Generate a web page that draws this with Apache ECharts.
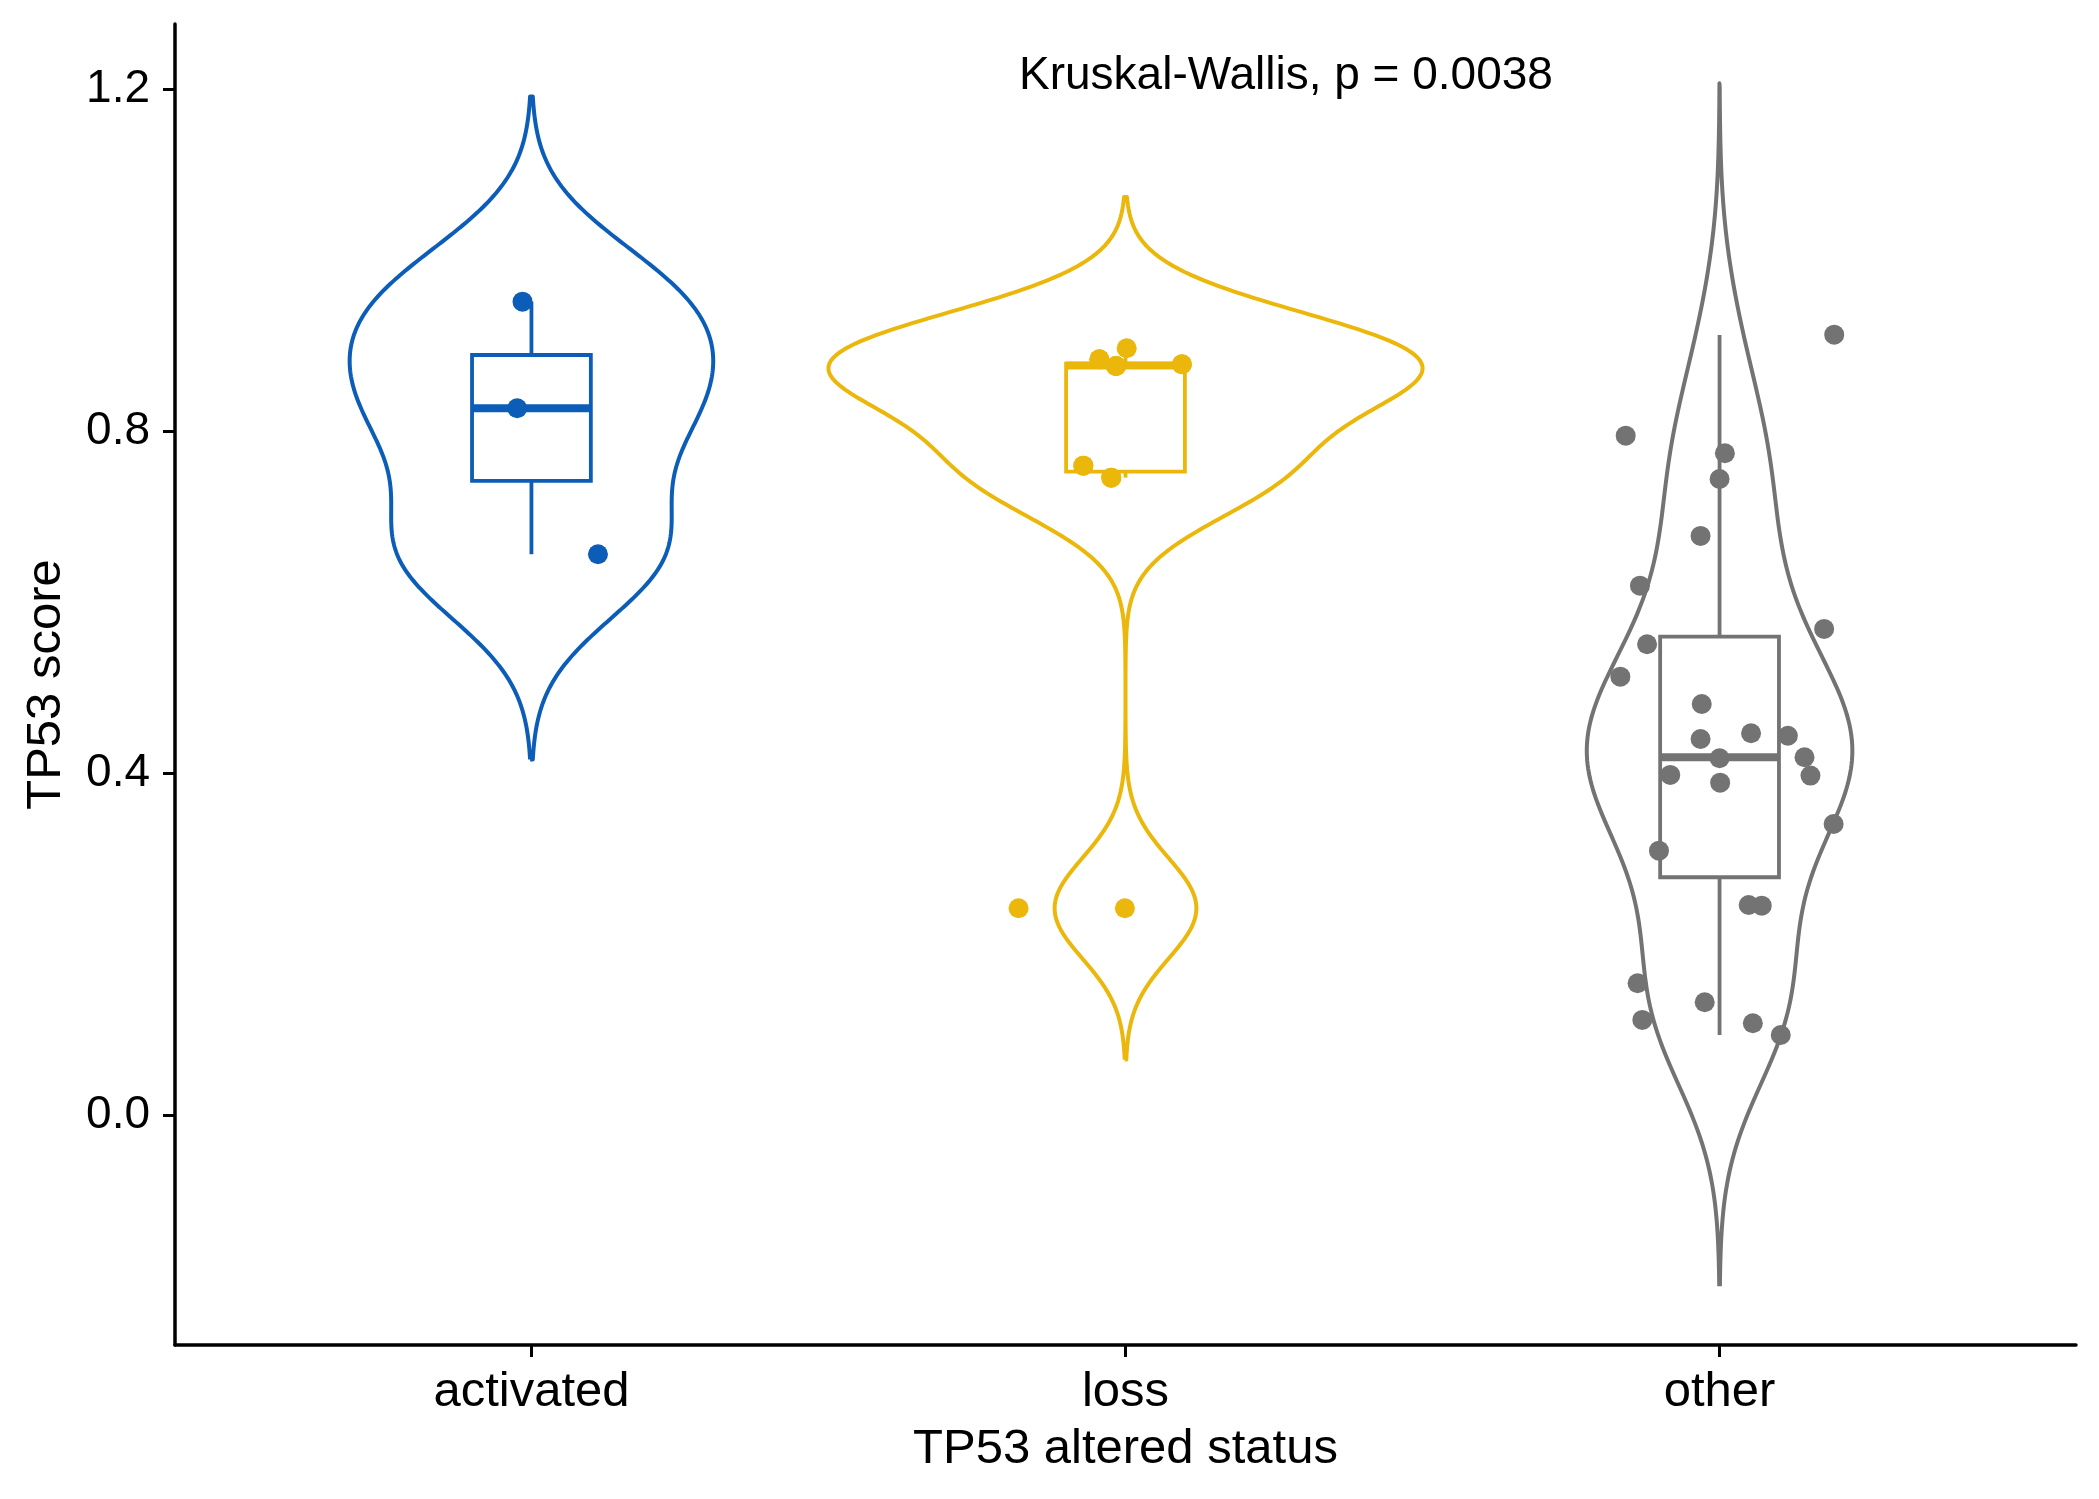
<!DOCTYPE html>
<html>
<head>
<meta charset="utf-8">
<script src="https://cdn.jsdelivr.net/npm/echarts@6/dist/echarts.min.js"></script>
<style>
  html, body { margin: 0; padding: 0; background: #fff; }
  #main { width: 2099px; height: 1499px; }
</style>
</head>
<body>
<div id="main"></div>
<script>
// groups on the x axis
const categories = ['activated', 'loss', 'other'];
const groupColors = ['#0C5DB7', '#EBB70B', '#737373'];

// TP53 score of each sample, with the horizontal jitter it was drawn with
const activatedScore = [0.9516, 0.8269, 0.6561];
const activatedJitter = [-0.015, -0.024, 0.112];

// several loss samples sit exactly on top of each other near 0.75 and 0.88
const lossScore = [0.8842, 0.8971, 0.8763, 0.8763, 0.8763, 0.8783, 0.8783, 0.8842,
  0.7597, 0.7597, 0.7457, 0.7457, 0.2419, 0.2419];
const lossJitter = [-0.044, 0.002, -0.016, -0.016, -0.016, 0.095, 0.095, -0.044,
  -0.071, -0.071, -0.024, -0.024, -0.180, -0.001];

const otherScore = [0.9130, 0.7948, 0.7742, 0.7441, 0.6775, 0.6193, 0.5687, 0.5508,
  0.5129, 0.4809, 0.4467, 0.4400, 0.4438, 0.4174, 0.4186, 0.3979, 0.3971, 0.3889,
  0.3405, 0.3093, 0.2458, 0.2450, 0.1542, 0.1320, 0.1113, 0.1074, 0.0937];
const otherJitter = [0.193, -0.158, 0.009, 0.000, -0.032, -0.134, 0.176, -0.122,
  -0.167, -0.030, 0.053, -0.032, 0.115, 0.000, 0.143, -0.083, 0.153, 0.001,
  0.192, -0.102, 0.049, 0.071, -0.138, -0.025, -0.130, 0.056, 0.103];

// boxplot: lower whisker, Q1, median, Q3, upper whisker
const activatedBox = [0.6561, 0.7418, 0.8269, 0.8892, 0.9516];
const lossBox = [0.7457, 0.7527, 0.8770, 0.8790, 0.8971];
const otherBox = [0.0937, 0.2782, 0.4186, 0.5597, 0.9126];

// kernel bandwidth and widest point of each violin (x units)
const bandwidth = [0.080, 0.059, 0.098];
const violinMaxWidth = [0.612, 1.0, 0.447];

const yTicks = [0, 0.4, 0.8, 1.2];
const testLabel = 'Kruskal-Wallis, p = 0.0038';

const scores = [activatedScore, lossScore, otherScore];
const jitters = [activatedJitter, lossJitter, otherJitter];
const boxes = [activatedBox, lossBox, otherBox];

// gaussian kernel density, like geom_violin (cut = 3)
function violinPath(vals, bw, center, maxW) {
  const lo = Math.min(...vals) - 3 * bw;
  const hi = Math.max(...vals) + 3 * bw;
  const n = 300;
  const ys = [], ds = [];
  for (let i = 0; i <= n; i++) {
    const y = lo + (hi - lo) * i / n;
    let s = 0;
    vals.forEach(v => { const z = (y - v) / bw; s += Math.exp(-0.5 * z * z); });
    ys.push(y); ds.push(s);
  }
  const maxD = Math.max(...ds);
  const left = [], right = [];
  for (let i = 0; i <= n; i++) {
    const hw = ds[i] / maxD * maxW / 2;
    left.push([center - hw, ys[i]]);
    right.push([center + hw, ys[i]]);
  }
  const path = left.concat(right.reverse());
  path.push(path[0]);
  return path;
}

const series = [];

categories.forEach((cat, g) => {
  series.push({
    type: 'line',
    name: cat + ' violin',
    data: violinPath(scores[g], bandwidth[g], g + 1, violinMaxWidth[g]),
    showSymbol: false,
    symbol: 'none',
    silent: true,
    z: 2,
    lineStyle: { color: groupColors[g], width: 4, join: 'round' }
  });
});

series.push({
  type: 'custom',
  name: 'box',
  z: 3,
  silent: true,
  data: boxes.map((b, g) => [g + 1].concat(b).concat([g])),
  renderItem: function (params, api) {
    const x = api.value(0);
    const col = groupColors[api.value(6)];
    const half = api.size([0.1, 0])[0];
    const pLow = api.coord([x, api.value(1)]);
    const pQ1 = api.coord([x, api.value(2)]);
    const pMed = api.coord([x, api.value(3)]);
    const pQ3 = api.coord([x, api.value(4)]);
    const pHigh = api.coord([x, api.value(5)]);
    const line = { stroke: col, lineWidth: 3.8, fill: null };
    return {
      type: 'group',
      children: [
        { type: 'line', shape: { x1: pLow[0], y1: pLow[1], x2: pQ1[0], y2: pQ1[1] }, style: line },
        { type: 'line', shape: { x1: pQ3[0], y1: pQ3[1], x2: pHigh[0], y2: pHigh[1] }, style: line },
        { type: 'rect', shape: { x: pQ3[0] - half, y: pQ3[1], width: half * 2, height: pQ1[1] - pQ3[1] },
          style: { stroke: col, lineWidth: 3.8, fill: '#fff' } },
        { type: 'line', shape: { x1: pMed[0] - half, y1: pMed[1], x2: pMed[0] + half, y2: pMed[1] },
          style: { stroke: col, lineWidth: 8 } }
      ]
    };
  }
});

categories.forEach((cat, g) => {
  series.push({
    type: 'scatter',
    name: cat,
    data: scores[g].map((v, i) => [g + 1 + jitters[g][i], v]),
    symbolSize: 20,
    z: 4,
    silent: true,
    itemStyle: { color: groupColors[g], opacity: 1 }
  });
});

const font = 'Liberation Sans, Arial, Helvetica, sans-serif';

const option = {
  animation: false,
  backgroundColor: '#fff',
  grid: { left: 175, right: 23, top: 24, bottom: 154 },
  xAxis: {
    type: 'value',
    min: 0.4,
    max: 3.6,
    name: 'TP53 altered status',
    nameLocation: 'middle',
    nameGap: 80,
    nameTextStyle: { fontSize: 49, color: '#000', fontFamily: font },
    axisLine: { show: true, onZero: false, lineStyle: { color: '#000', width: 3.5 } },
    axisTick: { show: true, customValues: [1, 2, 3], length: 12, lineStyle: { color: '#000', width: 3 } },
    axisLabel: {
      customValues: [1, 2, 3],
      formatter: v => categories[Math.round(v) - 1],
      fontSize: 49, color: '#000', fontFamily: font, margin: 23
    },
    splitLine: { show: false }
  },
  yAxis: {
    type: 'value',
    min: -0.269,
    max: 1.2764,
    name: 'TP53 score',
    nameLocation: 'middle',
    nameGap: 104,
    nameRotate: 90,
    nameTextStyle: { fontSize: 49, color: '#000', fontFamily: font },
    axisLine: { show: true, onZero: false, lineStyle: { color: '#000', width: 3.5 } },
    axisTick: { show: true, customValues: yTicks, length: 12, lineStyle: { color: '#000', width: 3 } },
    axisLabel: {
      customValues: yTicks,
      formatter: v => v.toFixed(1),
      fontSize: 46, color: '#000', fontFamily: font, margin: 25
    },
    splitLine: { show: false }
  },
  graphic: [{
    type: 'text',
    left: 1019,
    top: 53,
    style: { text: testLabel, fontSize: 46, fill: '#000', fontFamily: font }
  }],
  series: series
};

const chart = echarts.init(document.getElementById('main'), null, { renderer: 'canvas' });
chart.setOption(option);
</script>
</body>
</html>
